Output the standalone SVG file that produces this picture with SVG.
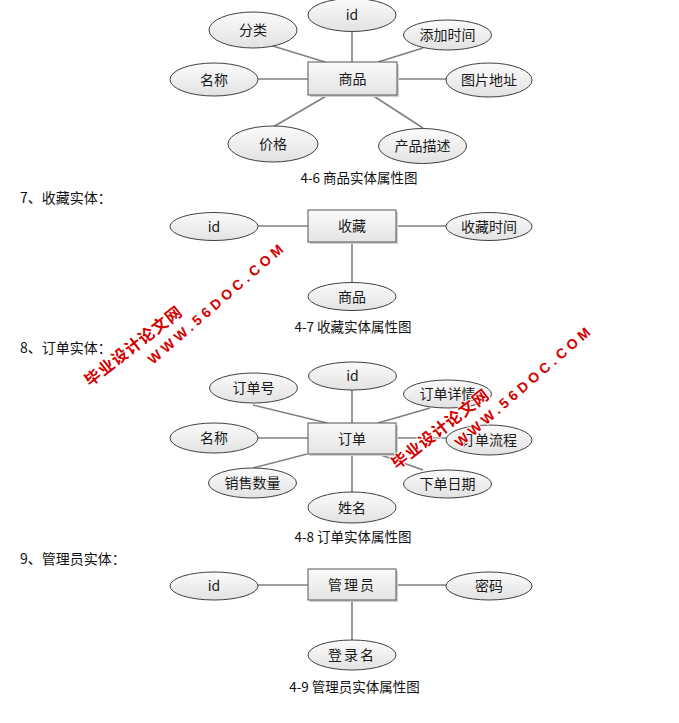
<svg xmlns="http://www.w3.org/2000/svg" width="679" height="723" viewBox="0 0 679 723">
<defs>
<linearGradient id="gE" x1="0" y1="0" x2="0" y2="1">
<stop offset="0" stop-color="#fbfbfb"/><stop offset="1" stop-color="#e2e2e2"/>
</linearGradient>
<linearGradient id="gR" x1="0" y1="0" x2="0" y2="1">
<stop offset="0" stop-color="#fafafa"/><stop offset="1" stop-color="#e4e4e4"/>
</linearGradient>
</defs>
<style>
.e{fill:url(#gE);stroke:#404040;stroke-width:1}
.r{fill:url(#gR);stroke:#555;stroke-width:1}
.sh{fill:#cfcfcf}
.c line{stroke:#808080;stroke-width:1.6}
.t{font-family:"Noto Sans CJK SC","Liberation Sans",sans-serif;font-size:14px;fill:#1a1a1a;text-anchor:middle}
.cap{font-family:"Noto Sans CJK SC","Liberation Sans",sans-serif;font-size:13.5px;fill:#111;text-anchor:middle}
.h{font-family:"Noto Sans CJK SC","Liberation Sans",sans-serif;font-size:14px;fill:#111}
.wm{font-weight:bold;fill:#d40000;stroke:#fff;stroke-width:2;paint-order:stroke;stroke-linejoin:round}
.wc{font-family:"Noto Sans CJK SC",sans-serif;font-size:16px;letter-spacing:1px}
.we{font-family:"Liberation Sans",Arial,sans-serif;font-size:14px;letter-spacing:4px}
</style>
<rect width="679" height="723" fill="#fff"/>

<!-- connectors -->
<g id="connectors" class="c">
<line x1="352" y1="31" x2="352" y2="62"/>
<line x1="263" y1="43" x2="325" y2="62"/>
<line x1="423" y1="48" x2="378" y2="62"/>
<line x1="258" y1="79" x2="308" y2="79"/>
<line x1="397" y1="79" x2="446" y2="79"/>
<line x1="328" y1="95" x2="273" y2="127"/>
<line x1="372" y1="95" x2="423" y2="128"/>
<line x1="258" y1="226" x2="308" y2="226"/>
<line x1="396" y1="226" x2="446" y2="226"/>
<line x1="352" y1="242" x2="352" y2="283"/>
<line x1="352" y1="390" x2="352" y2="423"/>
<line x1="253" y1="405" x2="327" y2="423"/>
<line x1="430" y1="408" x2="378" y2="423"/>
<line x1="258" y1="438" x2="308" y2="438"/>
<line x1="396" y1="438" x2="446" y2="438"/>
<line x1="307" y1="454" x2="253" y2="468"/>
<line x1="378" y1="454" x2="423" y2="470"/>
<line x1="352" y1="454" x2="352" y2="492"/>
<line x1="258" y1="585" x2="308" y2="585"/>
<line x1="396" y1="585" x2="446" y2="585"/>
<line x1="352" y1="600" x2="352" y2="640"/>
</g>

<!-- 4-6 商品 -->
<g id="e-goods"><rect class="sh" x="310" y="64" width="89" height="33"/><rect class="r" x="308" y="62" width="89" height="33"/><text class="t" x="352.5" y="83.5">商品</text></g>
<g id="a-goods-id"><ellipse class="e" cx="352" cy="15" rx="44" ry="16.5"/><text class="t" x="352" y="20">id</text></g>
<g id="a-goods-cat"><ellipse class="e" cx="253" cy="30" rx="44" ry="18"/><text class="t" x="253" y="35">分类</text></g>
<g id="a-goods-time"><ellipse class="e" cx="447.5" cy="35" rx="44" ry="15"/><text class="t" x="447.5" y="40">添加时间</text></g>
<g id="a-goods-name"><ellipse class="e" cx="214" cy="79.5" rx="44" ry="16.5"/><text class="t" x="214" y="84.5">名称</text></g>
<g id="a-goods-img"><ellipse class="e" cx="489" cy="80" rx="43" ry="17"/><text class="t" x="489" y="85">图片地址</text></g>
<g id="a-goods-price"><ellipse class="e" cx="273" cy="144" rx="45" ry="18"/><text class="t" x="273" y="149">价格</text></g>
<g id="a-goods-desc"><ellipse class="e" cx="422.5" cy="146" rx="44" ry="17.5"/><text class="t" x="422.5" y="151">产品描述</text></g>
<text class="cap" x="359" y="183">4-6 商品实体属性图</text>

<!-- 4-7 收藏 -->
<text class="h" x="20" y="203">7、收藏实体：</text>
<g id="e-fav"><rect class="sh" x="310" y="212" width="88" height="32"/><rect class="r" x="308" y="210" width="88" height="32"/><text class="t" x="352" y="231">收藏</text></g>
<g id="a-fav-id"><ellipse class="e" cx="214" cy="226.5" rx="44" ry="14"/><text class="t" x="214" y="231.5">id</text></g>
<g id="a-fav-time"><ellipse class="e" cx="489" cy="226.5" rx="43" ry="14"/><text class="t" x="489" y="231.5">收藏时间</text></g>
<g id="a-fav-goods"><ellipse class="e" cx="352" cy="296.5" rx="44" ry="14"/><text class="t" x="352" y="301.5">商品</text></g>
<text class="cap" x="353" y="332">4-7 收藏实体属性图</text>

<!-- 4-8 订单 -->
<text class="h" x="20" y="353">8、订单实体：</text>
<g id="e-order"><rect class="sh" x="310" y="425" width="88" height="31"/><rect class="r" x="308" y="423" width="88" height="31"/><text class="t" x="352" y="443.5">订单</text></g>
<g id="a-order-id"><ellipse class="e" cx="352.5" cy="376" rx="44" ry="14"/><text class="t" x="352.5" y="381">id</text></g>
<g id="a-order-no"><ellipse class="e" cx="253.5" cy="388" rx="44" ry="15"/><text class="t" x="253.5" y="393">订单号</text></g>
<g id="a-order-detail"><ellipse class="e" cx="447.5" cy="394" rx="44" ry="14"/><text class="t" x="447.5" y="399">订单详情</text></g>
<g id="a-order-name"><ellipse class="e" cx="214" cy="438" rx="44" ry="15"/><text class="t" x="214" y="443">名称</text></g>
<g id="a-order-flow"><ellipse class="e" cx="489" cy="440" rx="43" ry="15"/><text class="t" x="489" y="445">订单流程</text></g>
<g id="a-order-qty"><ellipse class="e" cx="252.5" cy="483" rx="44" ry="15"/><text class="t" x="252.5" y="488">销售数量</text></g>
<g id="a-order-date"><ellipse class="e" cx="447.5" cy="484" rx="44" ry="14"/><text class="t" x="447.5" y="489">下单日期</text></g>
<g id="a-order-user"><ellipse class="e" cx="352" cy="507.5" rx="44" ry="15.5"/><text class="t" x="352" y="512.5">姓名</text></g>
<text class="cap" x="353" y="542">4-8 订单实体属性图</text>

<!-- 4-9 管理员 -->
<text class="h" x="20" y="564">9、管理员实体：</text>
<g id="e-admin"><rect class="sh" x="310" y="571" width="88" height="31"/><rect class="r" x="308" y="569" width="88" height="31"/><text class="t" x="352" y="590" letter-spacing="2">管理员</text></g>
<g id="a-admin-id"><ellipse class="e" cx="214" cy="586" rx="44" ry="14"/><text class="t" x="214" y="591">id</text></g>
<g id="a-admin-pwd"><ellipse class="e" cx="489" cy="586" rx="43" ry="14"/><text class="t" x="489" y="591">密码</text></g>
<g id="a-admin-login"><ellipse class="e" cx="352" cy="655" rx="44" ry="15"/><text class="t" x="352" y="660" letter-spacing="2">登录名</text></g>
<text class="cap" x="354.5" y="692">4-9 管理员实体属性图</text>

<!-- watermarks -->
<g transform="translate(90,387)" class="wm">
<text class="wc" transform="rotate(-38)" x="0" y="0">毕业设计论文网</text>
<text class="we" transform="translate(63,-22) rotate(-41)" x="0" y="0">WWW.56DOC.COM</text>
</g>
<g transform="translate(397,470)" class="wm">
<text class="wc" transform="rotate(-38)" x="0" y="0">毕业设计论文网</text>
<text class="we" transform="translate(63,-22) rotate(-41)" x="0" y="0">WWW.56DOC.COM</text>
</g>
</svg>
